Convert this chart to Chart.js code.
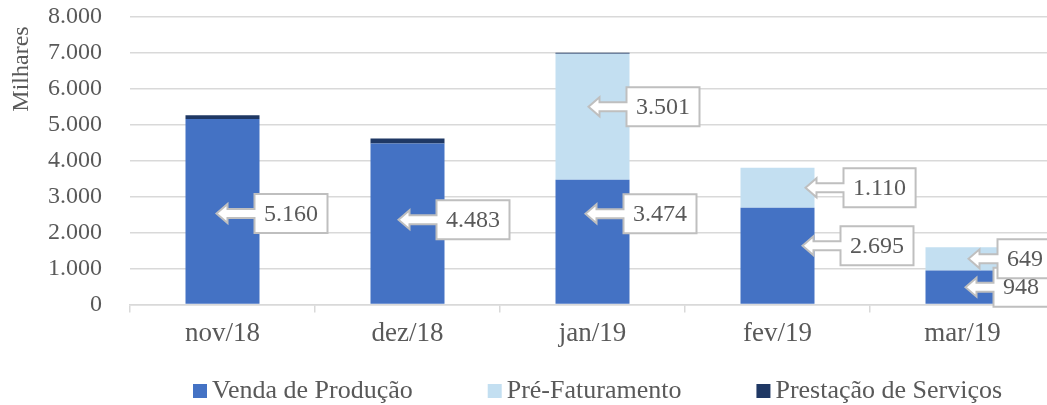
<!DOCTYPE html>
<html>
<head>
<meta charset="utf-8">
<script src="https://cdn.jsdelivr.net/npm/chart.js@4"></script>
<style>
  html, body { margin: 0; padding: 0; background: #fff; overflow: hidden; }
  #wrap { width: 1055px; height: 405px; position: relative; }
</style>
</head>
<body>
<div id="wrap"><canvas id="chart"></canvas></div>
<script>
/* ===== DATA ===== */
const categories = ['nov/18', 'dez/18', 'jan/19', 'fev/19', 'mar/19'];
const vendaProducao = [5160, 4483, 3474, 2695, 948];
const preFaturamento = [0, 0, 3501, 1110, 649];
const prestacaoServicos = [110, 140, 30, 0, 0];
const yTickLabels = ['0', '1.000', '2.000', '3.000', '4.000', '5.000', '6.000', '7.000', '8.000'];
const yTitle = 'Milhares';

const FONT = '"Liberation Serif", "DejaVu Serif", serif';
const GRAY_TEXT = '#595959';
const GRID = '#d9d9d9';

function fmt(v) {
    return String(v).replace(/\B(?=(\d{3})+(?!\d))/g, '.');
}

/* ===== CALLOUT LABELS ===== */
// nudges per "dataset-index" (tip shift from bar centre, vertical shift, arrow length)
const calloutNudge = {
    '0-0': { dx: -6, dy: 2 },
    '0-1': { dx: -9, dy: -4 },
    '0-2': { dx: -7, dy: -28 },
    '1-2': { dx: -4, dy: -10 },
    '0-3': { dx: 25, dy: -10 },
    '1-3': { dx: 28, dy: 0 },
    '0-4': { dx: 3, dy: 0, len: 28 },
    '1-4': { dx: 6, dy: 0, len: 29 }
};

const calloutPlugin = {
    id: 'callouts',
    afterDatasetsDraw(chart) {
        const ctx = chart.ctx;
        ctx.save();
        ctx.font = '24px ' + FONT;
        [0, 1].forEach(di => {
            const meta = chart.getDatasetMeta(di);
            const values = chart.data.datasets[di].data;
            meta.data.forEach((bar, i) => {
                if (!values[i]) return;
                const n = calloutNudge[di + '-' + i] || { dx: -6, dy: 0 };
                const text = fmt(values[i]);
                const tip = bar.x + n.dx;
                const cy = (bar.y + bar.base) / 2 + n.dy;
                const left = tip + (n.len || 38);
                const w = ctx.measureText(text).width + 19;
                const h = 39;
                const top = cy - h / 2;
                const shaft = 4.5, head = 9.5, headLen = 11;

                ctx.beginPath();
                ctx.moveTo(left, top);
                ctx.lineTo(left + w, top);
                ctx.lineTo(left + w, top + h);
                ctx.lineTo(left, top + h);
                ctx.lineTo(left, cy + shaft);
                ctx.lineTo(tip + headLen, cy + shaft);
                ctx.lineTo(tip + headLen, cy + head);
                ctx.lineTo(tip, cy);
                ctx.lineTo(tip + headLen, cy - head);
                ctx.lineTo(tip + headLen, cy - shaft);
                ctx.lineTo(left, cy - shaft);
                ctx.closePath();
                ctx.fillStyle = '#ffffff';
                ctx.fill();
                ctx.lineWidth = 2;
                ctx.strokeStyle = '#bfbfbf';
                ctx.stroke();

                ctx.fillStyle = GRAY_TEXT;
                ctx.textAlign = 'center';
                ctx.textBaseline = 'middle';
                ctx.fillText(text, left + w / 2, cy + 1);
            });
        });
        ctx.restore();
    }
};

/* ===== LEGEND + AXIS TITLE (drawn by hand, Excel-like placement) ===== */
const textPlugin = {
    id: 'excelText',
    afterDraw(chart) {
        const ctx = chart.ctx;
        ctx.save();
        ctx.font = '26px ' + FONT;
        ctx.textBaseline = 'middle';
        ctx.textAlign = 'left';
        let x = 193;
        const cy = 391;
        chart.data.datasets.forEach(ds => {
            ctx.fillStyle = ds.backgroundColor;
            ctx.fillRect(x, cy - 7, 14, 14);
            ctx.fillStyle = GRAY_TEXT;
            ctx.fillText(ds.label, x + 19, cy);
            x += 19 + ctx.measureText(ds.label).width + 75;
        });

        // rotated y-axis title near the top
        ctx.font = '24px ' + FONT;
        ctx.fillStyle = GRAY_TEXT;
        ctx.translate(22, 69);
        ctx.rotate(-Math.PI / 2);
        ctx.textAlign = 'center';
        ctx.fillText(yTitle, 0, 0);
        ctx.restore();
    }
};

/* ===== CHART ===== */
document.addEventListener('DOMContentLoaded', function() {
    const ctx = document.getElementById('chart').getContext('2d');
    new Chart(ctx, {
        type: 'bar',
        data: {
            labels: categories,
            datasets: [
                { label: 'Venda de Produção', data: vendaProducao, backgroundColor: '#4472C4' },
                { label: 'Pré-Faturamento', data: preFaturamento, backgroundColor: '#C3DFF1' },
                { label: 'Prestação de Serviços', data: prestacaoServicos, backgroundColor: '#1F3864' }
            ]
        },
        options: {
            responsive: true,
            maintainAspectRatio: false,
            animation: false,
            layout: { padding: { top: 17, right: 0, left: 6, bottom: 50 } },
            datasets: {
                bar: { barPercentage: 0.4, categoryPercentage: 1.0, borderWidth: 0 }
            },
            plugins: {
                tooltip: { enabled: false },
                legend: { display: false }
            },
            scales: {
                x: {
                    stacked: true,
                    offset: true,
                    border: { color: GRID, width: 1.5 },
                    grid: {
                        offset: true,
                        drawOnChartArea: false,
                        color: GRID,
                        lineWidth: 1.5,
                        tickLength: 8
                    },
                    ticks: {
                        font: { family: FONT, size: 27 },
                        color: GRAY_TEXT,
                        padding: 5
                    }
                },
                y: {
                    stacked: true,
                    min: 0,
                    max: 8000,
                    border: { display: false },
                    grid: { color: GRID, lineWidth: 1.5, drawTicks: false },
                    ticks: {
                        stepSize: 1000,
                        font: { family: FONT, size: 24 },
                        color: GRAY_TEXT,
                        padding: 28,
                        callback: (v, i) => yTickLabels[i]
                    },
                    afterFit(scale) {
                        scale.width = 124;
                        scale.paddingTop = 0;
                        scale.paddingBottom = 0;
                    }
                }
            }
        },
        plugins: [calloutPlugin, textPlugin]
    });
});
</script>
</body>
</html>
